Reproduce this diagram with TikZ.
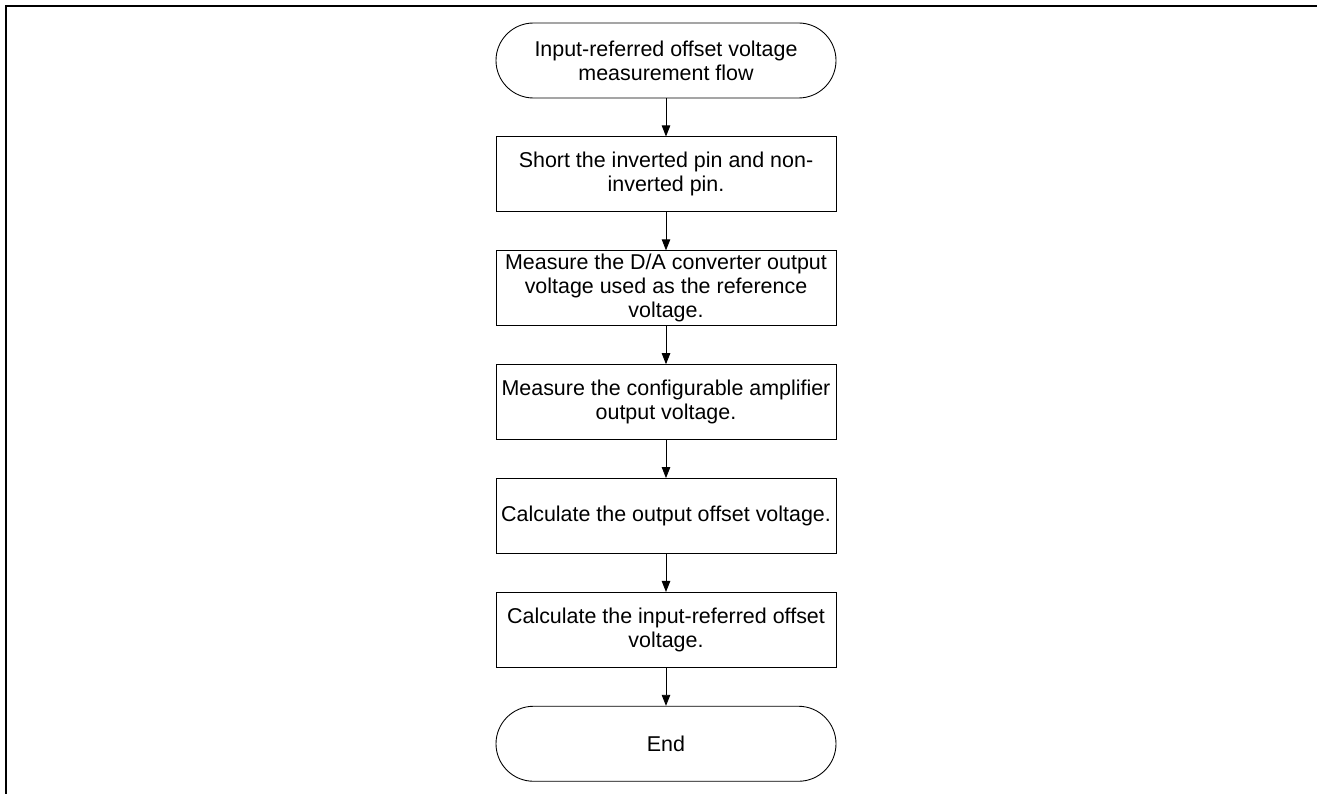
\documentclass[tikz,border=0pt]{standalone}
\usepackage{fontspec}
\setmainfont{Liberation Sans}
\usetikzlibrary{positioning}
\usetikzlibrary{arrows.meta}

\begin{document}
\begin{tikzpicture}
        % ================= styles =================
        \tikzset{
            % start / end terminals
            term/.style={draw=black, line width=0.5pt, rounded corners=0.75cm, minimum width=6.8cm, minimum height=1.5cm, inner sep=2pt, align=center, font=\fontsize{12.2}{13.6}\selectfont},
            % process steps
            stepbox/.style={draw=black, line width=0.5pt, minimum width=6.8cm, minimum height=1.5cm, inner sep=2pt, align=center, font=\fontsize{12.2}{13.6}\selectfont},
            % arrows between the steps
            flow/.style={line width=0.5pt, black, -{Triangle[length=0.22cm, width=0.17cm]}},
            % page frame (top and left only)
            frame/.style={line width=1.1pt, black}
        }

        \useasboundingbox (0,0) rectangle (26.34,-15.88);

        % ================= frame =================
        \draw[frame] (26.34,-0.12) -- (0.12,-0.12) -- (0.12,-15.88);

        % ================= flow =================
        \node[term] (start) at (13.32,-1.21) {Input-referred offset voltage\\measurement flow};
        \node[stepbox, below=0.76cm of start] (short) {Short the inverted pin and non-\\inverted pin.};
        \node[stepbox, below=0.76cm of short] (dac) {Measure the D/A converter output\\voltage used as the reference\\voltage.};
        \node[stepbox, below=0.76cm of dac] (amp) {Measure the configurable amplifier\\output voltage.};
        \node[stepbox, below=0.76cm of amp] (outoff) {Calculate the output offset voltage.};
        \node[stepbox, below=0.76cm of outoff] (inoff) {Calculate the input-referred offset\\voltage.};
        \node[term, below=0.76cm of inoff] (end) {End};

        \draw[flow] (start) -- (short);
        \draw[flow] (short) -- (dac);
        \draw[flow] (dac) -- (amp);
        \draw[flow] (amp) -- (outoff);
        \draw[flow] (outoff) -- (inoff);
        \draw[flow] (inoff) -- (end);

    \end{tikzpicture}
\end{document}
